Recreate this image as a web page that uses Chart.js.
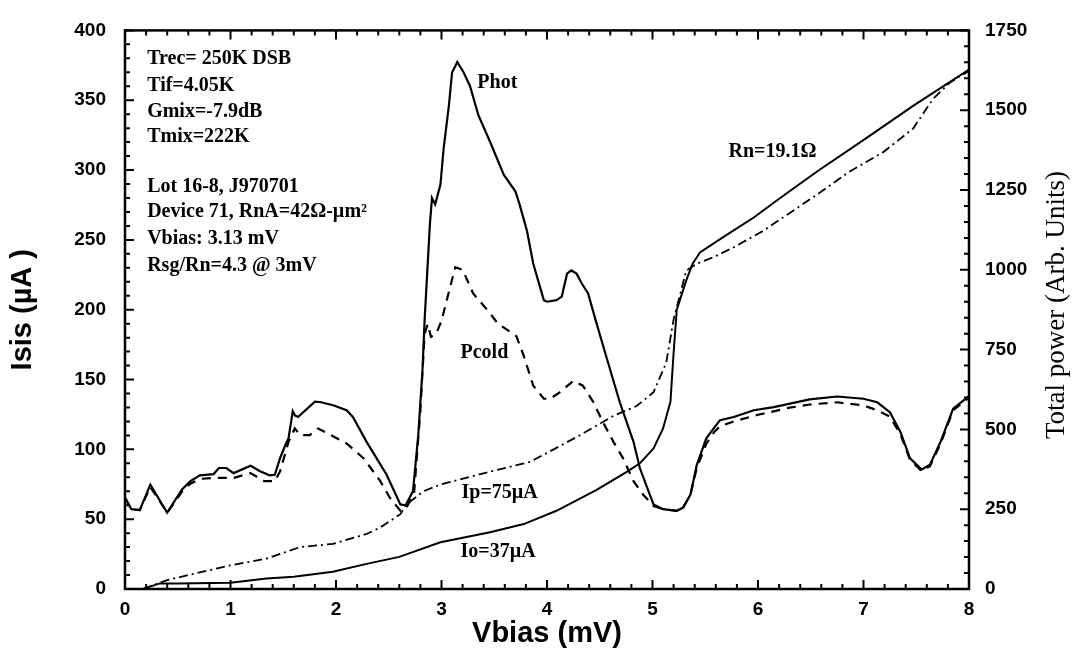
<!DOCTYPE html>
<html>
<head>
<meta charset="utf-8">
<script src="https://cdn.jsdelivr.net/npm/chart.js@4/dist/chart.umd.min.js"></script>
<style>
  body { margin: 0; background: #fff; }
  canvas { display: block; }
</style>
</head>
<body>
<canvas id="myChart" width="1074" height="656"></canvas>
<script>
// total power, hot load (right axis)
const photV = [0, 0.06, 0.14, 0.24, 0.4, 0.54, 0.62, 0.71, 0.84, 0.89, 0.96, 1.03, 1.19, 1.28, 1.37, 1.42, 1.47, 1.52, 1.55, 1.59, 1.61, 1.64, 1.80, 1.86, 1.98, 2.10, 2.16, 2.29, 2.48, 2.61, 2.66, 2.73, 2.78, 2.82, 2.84, 2.89, 2.91, 2.94, 2.99, 3.02, 3.07, 3.10, 3.15, 3.21, 3.27, 3.35, 3.46, 3.59, 3.70, 3.74, 3.81, 3.87, 3.97, 4.00, 4.09, 4.14, 4.19, 4.23, 4.28, 4.33, 4.39, 4.46, 4.57, 4.69, 4.82, 4.88, 4.95, 5.01, 5.10, 5.23, 5.29, 5.36, 5.42, 5.51, 5.58, 5.64, 5.77, 5.96, 6.15, 6.49, 6.75, 7.0, 7.13, 7.25, 7.35, 7.44, 7.55, 7.63, 7.73, 7.85, 8.0];
const photP = [286, 250, 247, 327, 239, 312, 338, 356, 360, 379, 379, 363, 386, 369, 356, 358, 410, 451, 472, 557, 544, 539, 587, 585, 575, 560, 539, 461, 358, 265, 262, 307, 483, 688, 843, 1143, 1225, 1205, 1267, 1380, 1514, 1618, 1651, 1618, 1576, 1484, 1401, 1298, 1246, 1205, 1122, 1019, 905, 900, 905, 916, 988, 998, 988, 957, 926, 843, 719, 585, 461, 379, 317, 265, 250, 245, 255, 296, 389, 472, 503, 529, 539, 560, 570, 594, 603, 596, 585, 554, 492, 410, 374, 389, 461, 565, 604];

// total power, cold load (right axis)
const coldV = [0, 0.06, 0.14, 0.24, 0.4, 0.54, 0.62, 0.71, 0.84, 1.03, 1.19, 1.32, 1.42, 1.47, 1.55, 1.61, 1.66, 1.75, 1.83, 1.98, 2.10, 2.26, 2.42, 2.51, 2.61, 2.66, 2.74, 2.80, 2.84, 2.87, 2.90, 2.95, 3.00, 3.05, 3.13, 3.20, 3.30, 3.46, 3.53, 3.71, 3.78, 3.87, 3.97, 4.03, 4.12, 4.25, 4.34, 4.44, 4.53, 4.63, 4.72, 4.82, 4.91, 5.01, 5.10, 5.23, 5.29, 5.36, 5.42, 5.51, 5.58, 5.64, 5.77, 5.99, 6.3, 6.49, 6.75, 7.0, 7.13, 7.25, 7.35, 7.44, 7.55, 7.63, 7.73, 7.85, 8.0];
const coldP = [286, 250, 247, 320, 239, 305, 330, 345, 348, 348, 363, 338, 338, 369, 461, 503, 482, 482, 503, 477, 456, 410, 338, 286, 245, 250, 300, 560, 800, 830, 790, 800, 840, 905, 1008, 1000, 926, 864, 833, 792, 730, 637, 596, 596, 616, 652, 637, 585, 523, 461, 410, 338, 296, 260, 250, 245, 255, 296, 380, 455, 490, 510, 525, 545, 568, 578, 585, 575, 560, 540, 485, 405, 370, 385, 455, 560, 600];

// unpumped IV, Io=37uA (left axis)
const iv0V = [0.17, 0.33, 0.5, 1.0, 1.34, 1.6, 1.97, 2.29, 2.6, 2.99, 3.46, 3.78, 4.09, 4.47, 4.76, 4.88, 5.01, 5.10, 5.17, 5.20, 5.23, 5.32, 5.38, 5.45, 5.67, 5.96, 6.21, 6.56, 7.03, 7.47, 8.0];
const iv0I = [0, 4, 4, 4.5, 7.5, 8.7, 12.3, 18, 23, 33.5, 40.6, 46.5, 56, 71, 84, 90, 100.7, 115, 134, 169, 200, 221, 233, 241, 252, 266, 280, 299, 323, 346, 372];

// pumped IV, Ip=75uA (left axis)
const iv1V = [0.17, 0.4, 1.0, 1.34, 1.66, 1.97, 2.29, 2.42, 2.61, 2.67, 2.83, 2.99, 3.46, 3.84, 4.31, 4.63, 4.85, 5.01, 5.13, 5.20, 5.32, 5.42, 5.58, 5.77, 6.05, 6.56, 6.87, 7.19, 7.47, 7.66, 7.82, 8.0];
const iv1I = [0, 6.4, 17, 21.7, 30, 32.3, 39.4, 44, 53.6, 60.7, 70, 74.8, 84, 91, 110, 124, 131, 141, 162, 193, 228, 233, 237.6, 244.7, 256.5, 282.5, 299, 313, 329.7, 351, 362.7, 371];

// text written inside the plot (anchored at x in mV, y in uA)
const notes = [
  ["Trec= 250K DSB", 0.21, 375.9],
  ["Tif=4.05K", 0.21, 356.8],
  ["Gmix=-7.9dB", 0.21, 337.7],
  ["Tmix=222K", 0.21, 320],
  ["Lot 16-8, J970701", 0.21, 284.6],
  ["Device 71, RnA=42\u03A9-\u00B5m\u00B2", 0.21, 266.2],
  ["Vbias: 3.13 mV", 0.21, 247.1],
  ["Rsg/Rn=4.3 @ 3mV", 0.21, 228],
  ["Phot", 3.34, 359],
  ["Pcold", 3.18, 165.7],
  ["Ip=75\u00B5A", 3.19, 65],
  ["Io=37\u00B5A", 3.18, 22.7],
  ["Rn=19.1\u03A9", 5.72, 309.4]
];

function pts(xs, ys) {
  const out = [];
  for (let i = 0; i < Math.min(xs.length, ys.length); i++) {
    out.push({ x: xs[i], y: ys[i] });
  }
  return out;
}

const tickFont = { family: "Liberation Sans", size: 19, weight: "bold" };

// inward tick marks, frame, notes and right axis title
const framePlugin = {
  id: "frame",
  afterDraw(chart) {
    const c = chart.ctx;
    const a = chart.chartArea;
    const sx = chart.scales.x, sy = chart.scales.y, sy2 = chart.scales.y2;
    c.save();
    c.strokeStyle = "#000";
    c.lineWidth = 2;
    c.beginPath();
    for (let i = 0; i <= 40; i++) {
      const px = sx.getPixelForValue(i * 0.2);
      const len = i % 5 === 0 ? 9 : 5;
      c.moveTo(px, a.bottom); c.lineTo(px, a.bottom - len);
      c.moveTo(px, a.top); c.lineTo(px, a.top + len);
    }
    for (let i = 0; i <= 40; i++) {
      const py = sy.getPixelForValue(i * 10);
      const len = i % 5 === 0 ? 9 : 5;
      c.moveTo(a.left, py); c.lineTo(a.left + len, py);
    }
    for (let i = 0; i <= 35; i++) {
      const py = sy2.getPixelForValue(i * 50);
      const len = i % 5 === 0 ? 9 : 5;
      c.moveTo(a.right, py); c.lineTo(a.right - len, py);
    }
    c.stroke();
    c.lineWidth = 2.5;
    c.strokeRect(a.left, a.top, a.right - a.left, a.bottom - a.top);

    c.fillStyle = "#000";
    c.font = 'bold 20px "Liberation Serif"';
    c.textAlign = "left";
    c.textBaseline = "alphabetic";
    notes.forEach(n => {
      c.fillText(n[0], sx.getPixelForValue(n[1]), sy.getPixelForValue(n[2]));
    });

    c.translate(1057, 305);
    c.rotate(-Math.PI / 2);
    c.textAlign = "center";
    c.textBaseline = "middle";
    c.font = '27px "Liberation Serif"';
    c.fillText("Total power (Arb. Units)", 0, 0);
    c.restore();
  }
};

const ctx = document.getElementById("myChart");

new Chart(ctx, {
  type: "line",
  data: {
    datasets: [
      {
        label: "Phot",
        data: pts(photV, photP),
        yAxisID: "y2",
        borderColor: "#000",
        borderWidth: 2.2,
      },
      {
        label: "Pcold",
        data: pts(coldV, coldP),
        yAxisID: "y2",
        borderColor: "#000",
        borderWidth: 2.2,
        borderDash: [9, 7],
      },
      {
        label: "Io=37uA",
        data: pts(iv0V, iv0I),
        yAxisID: "y",
        borderColor: "#000",
        borderWidth: 2,
      },
      {
        label: "Ip=75uA",
        data: pts(iv1V, iv1I),
        yAxisID: "y",
        borderColor: "#000",
        borderWidth: 1.8,
        borderDash: [9, 4, 2, 4],
      },
    ],
  },
  options: {
    responsive: false,
    animation: false,
    layout: { padding: { top: 24, left: 0, right: 0, bottom: 0 } },
    elements: { point: { radius: 0 }, line: { tension: 0 } },
    plugins: {
      legend: { display: false },
      tooltip: { enabled: false },
    },
    scales: {
      x: {
        type: "linear",
        min: 0,
        max: 8,
        ticks: { stepSize: 1, padding: 9, color: "#000", font: tickFont },
        grid: { display: false, drawTicks: false },
        border: { display: false },
        title: {
          display: true,
          text: "Vbias (mV)",
          color: "#000",
          font: { family: "Liberation Sans", size: 29, weight: "bold" },
          padding: { top: 0, bottom: 5 },
        },
        afterFit: (s) => { s.height = 67; },
      },
      y: {
        position: "left",
        min: 0,
        max: 400,
        ticks: { stepSize: 50, padding: 19, color: "#000", font: tickFont },
        grid: { display: false, drawTicks: false },
        border: { display: false },
        title: {
          display: true,
          text: "Isis (\u00B5A )",
          color: "#000",
          font: { family: "Liberation Sans", size: 29, weight: "bold" },
          padding: { top: 6, bottom: 0 },
        },
        afterFit: (s) => { s.width = 125; },
      },
      y2: {
        position: "right",
        min: 0,
        max: 1750,
        ticks: {
          stepSize: 250,
          padding: 16,
          color: "#000",
          font: tickFont,
          format: { useGrouping: false },
        },
        grid: { display: false, drawTicks: false },
        border: { display: false },
        afterFit: (s) => { s.width = 105; },
      },
    },
  },
  plugins: [framePlugin],
});
</script>
</body>
</html>
